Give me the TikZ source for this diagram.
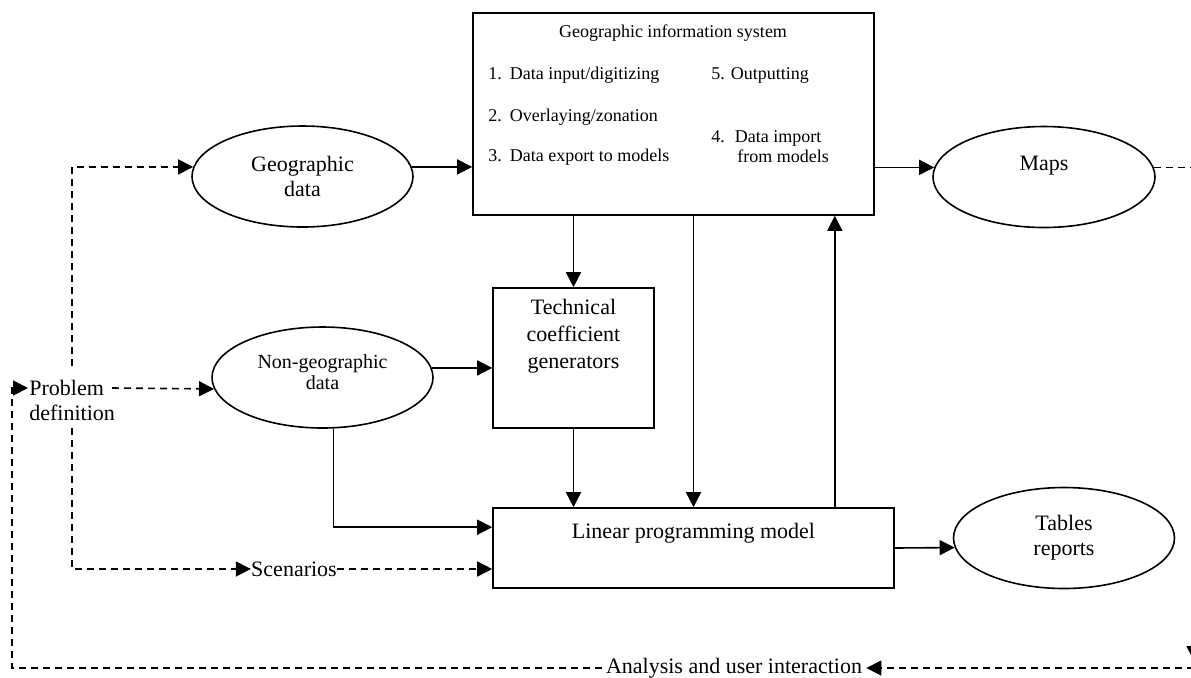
\documentclass[tikz,border=0pt]{standalone}
\usepackage{fontspec}
\setmainfont{Liberation Serif}
\usetikzlibrary{arrows.meta,shapes.geometric,calc}

\tikzset{
  box/.style={draw, line width=0.8pt, rectangle, inner sep=0pt},
  blob/.style={draw, line width=0.8pt, ellipse, minimum width=110.5pt,
    minimum height=50.5pt, inner sep=0pt, align=center},
  gistext/.style={inner sep=0pt, font=\fontsize{9}{10}\selectfont},
  flow/.style={line width=0.8pt, -{Triangle[length=7.5pt,width=7.5pt]}},
  loop/.style={flow, dash pattern=on 3.5pt off 2.5pt},
  loopline/.style={line width=0.8pt, dash pattern=on 3.5pt off 2.5pt},
}

\begin{document}
\begin{tikzpicture}[x=0.5pt, y=-0.5pt, font=\fontsize{11}{12.5}\selectfont]
  \useasboundingbox (0,0) rectangle (1191,677);

  % --- Caixas ---
  \node[box, minimum width=200.5pt, minimum height=101pt] (gis) at (673.5,114) {};
  \node[box, minimum width=80.5pt, minimum height=70pt] (tech) at (573.5,358) {};
  \node[box, minimum width=200.5pt, minimum height=40pt] (lp) at (693.5,548) {};

  % Textos do SIG
  \node[gistext] at (673,33) {Geographic information system};
  \node[gistext, anchor=west] at (488,75) {1.\hspace{0.45em}Data input/digitizing};
  \node[gistext, anchor=west] at (488,117) {2.\hspace{0.45em}Overlaying/zonation};
  \node[gistext, anchor=west] at (488,157) {3.\hspace{0.45em}Data export to models};
  \node[gistext, anchor=west] at (711,75) {5. Outputting};
  \node[gistext, anchor=west, align=left] at (711,147)
    {4.\hspace{0.55em}Data import\\\hspace*{13pt}from models};

  % Textos das caixas
  \node[inner sep=0pt, anchor=north, align=center, font=\fontsize{11}{13.5}\selectfont]
    at ($(tech.north)+(0,12)$) {Technical\\coefficient\\generators};
  \node[inner sep=0pt, anchor=base] at ($(lp.north)+(0,31)$) {Linear programming model};

  % --- Elipses ---
  \node[blob] (geo) at (302.5,176.5) {Geographic\\data};
  \node[blob, minimum width=111pt] (maps) at (1044,177) {};
  \node[inner sep=0pt, anchor=base] at ($(maps.center)+(0,-7)$) {Maps};
  \node[blob, font=\fontsize{10}{10.5}\selectfont] (nongeo) at (322.5,377.5)
    {Non-geographic\\data\\[-5pt]};
  \node[blob] (tables) at (1064,538) {Tables\\reports};

  % --- Textos soltos ---
  \node[inner sep=0pt, anchor=west, align=left] (pd) at (29,400.5) {Problem\\definition};
  \node[inner sep=0pt] (scen) at (294,569) {Scenarios};
  \node[inner sep=2pt] (ana) at (734,668) {Analysis and user interaction};

  % Pontos livres
  \coordinate (pdin) at (28,388);
  \coordinate (pdout) at (112,388);
  \coordinate (pdtop) at (72,366);
  \coordinate (pdbot) at (72,428);
  \coordinate (fbl) at (12,388);
  \coordinate (rtip) at (1194,661);
  \coordinate (rret) at (1194,668);
  \coordinate (lpa) at ($(lp.north west)+(0,20)$);
  \coordinate (lpup) at ($(lp.north east)+(-60,0)$);

  % --- Setas cheias ---
  \draw[flow] (geo.5) -- (geo.5 -| gis.west);
  \draw[flow] (maps.175 -| gis.east) -- (maps.175);
  \draw[flow] (tech.north |- gis.south) -- (tech.north);
  \draw[flow] (tech.south) -- (tech.south |- lp.north);
  \draw[flow] (lp.north |- gis.south) -- (lp.north);
  \draw[flow] (lpup) -- (lpup |- gis.south);
  \draw[flow] (nongeo.5) -- (nongeo.5 -| tech.west);
  \draw[flow] (nongeo.282) |- (lpa);
  \draw[flow] (lp.east) -- (tables.185);

  % --- Setas tracejadas ---
  \draw[loop] (pdtop) |- (geo.175);
  \draw[loop] (pdout) -- (nongeo.186);
  \draw[loop] (pdbot) |- (scen.west);
  \draw[loop] (scen.east) -- (scen.east -| lp.west);
  \draw[loop] (maps.5) -| (rtip);
  \draw[loop] (rret) -- (ana.east);
  \draw[loop] (ana.west) -| (fbl) -- (pdin);
\end{tikzpicture}
\end{document}
